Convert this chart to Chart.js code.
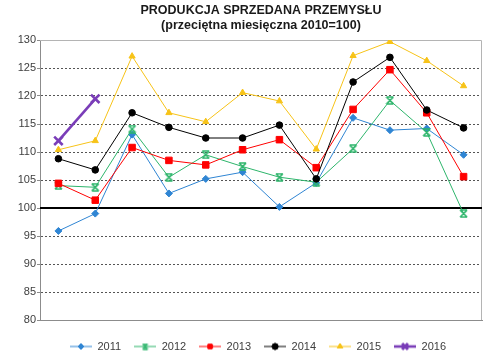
<!DOCTYPE html>
<html>
<head>
<meta charset="utf-8">
<script src="https://cdn.jsdelivr.net/npm/chart.js@4/dist/chart.umd.min.js"></script>
<style>
html,body{margin:0;padding:0;background:#fff;}
#wrap{width:500px;height:357px;}
</style>
</head>
<body>
<div id="wrap"><canvas id="c" width="500" height="357"></canvas></div>
<script>
const titleLines = ['PRODUKCJA SPRZEDANA PRZEMYSŁU', '(przeciętna miesięczna 2010=100)'];
const months = ['I','II','III','IV','V','VI','VII','VIII','IX','X','XI','XII'];
const seriesNames = ['2011','2012','2013','2014','2015','2016'];
const v2011 = [95.9, 99.0, 113.1, 102.6, 105.2, 106.4, 100.2, 104.5, 116.1, 113.9, 114.2, 109.5];
const v2012 = [104.0, 103.7, 114.1, 105.5, 109.5, 107.4, 105.5, 104.6, 110.6, 119.2, 113.5, 99.0];
const v2013 = [104.4, 101.4, 110.8, 108.5, 107.7, 110.4, 112.2, 107.2, 117.6, 124.7, 117.0, 105.6];
const v2014 = [108.8, 106.8, 117.0, 114.4, 112.5, 112.5, 114.8, 105.2, 122.5, 126.9, 117.5, 114.3];
const v2015 = [110.4, 112.0, 127.1, 117.0, 115.4, 120.6, 119.1, 110.5, 127.2, 129.7, 126.3, 121.8];
const v2016 = [112.0, 119.5, null, null, null, null, null, null, null, null, null, null];
const yMin = 80, yMax = 130, yStep = 5, baseLine = 100;

const FONT = "'Liberation Sans', Arial, sans-serif";
const colors = ['#2F85D3', '#2DB56B', '#FF0000', '#000000', '#F7C318', '#7A3DB8'];

function hourglass(color, size) {
  const c = document.createElement('canvas');
  c.width = size; c.height = size;
  const g = c.getContext('2d');
  g.strokeStyle = color; g.lineWidth = 1.6;
  const a = 1, b = size - 1;
  g.beginPath();
  g.moveTo(a, a); g.lineTo(b, b);
  g.moveTo(b, a); g.lineTo(a, b);
  g.moveTo(a, a); g.lineTo(b, a);
  g.moveTo(a, b); g.lineTo(b, b);
  g.stroke();
  return c;
}
const greenMarker = hourglass(colors[1], 9);

const styles = [
  {pointStyle: 'rectRot', radius: 3.5, lw: 1, pbw: 1},
  {pointStyle: greenMarker, radius: 4.5, lw: 1, pbw: 1},
  {pointStyle: 'rect', radius: 4.6, lw: 1, pbw: 1},
  {pointStyle: 'circle', radius: 3.3, lw: 1, pbw: 1},
  {pointStyle: 'triangle', radius: 3.6, lw: 1, pbw: 1},
  {pointStyle: 'crossRot', radius: 6, lw: 2.6, pbw: 2.6}
];

function legendIcon(i) {
  const c = document.createElement('canvas');
  c.width = 22; c.height = 10;
  const g = c.getContext('2d');
  g.strokeStyle = colors[i]; g.fillStyle = colors[i];
  g.lineWidth = styles[i].lw;
  g.beginPath(); g.moveTo(0, 5); g.lineTo(22, 5); g.stroke();
  const s = styles[i].pointStyle;
  if (typeof s !== 'string') {
    g.drawImage(hourglass(colors[i], 7), 7.5, 1.5);
  } else {
    Chart.helpers.drawPoint(g, {pointStyle: s, radius: i === 5 ? 4 : 3, rotation: 0, borderWidth: styles[i].lw}, 11, 5);
    if (s !== 'crossRot') g.fill();
    g.stroke();
  }
  return c;
}

const allValues = [v2011, v2012, v2013, v2014, v2015, v2016];
const datasets = allValues.map((vals, i) => ({
  label: seriesNames[i],
  data: vals,
  borderColor: colors[i],
  backgroundColor: colors[i],
  borderWidth: styles[i].lw,
  pointStyle: styles[i].pointStyle,
  pointRadius: styles[i].radius,
  pointBorderWidth: styles[i].pbw,
  pointBackgroundColor: colors[i],
  pointBorderColor: colors[i],
  tension: 0,
  spanGaps: false,
  order: 6 - i
}));

const framePlugin = {
  id: 'frame',
  afterLayout(chart) {
    const a = chart.chartArea;
    if (chart.titleBlock) { chart.titleBlock.left = a.left; chart.titleBlock.right = a.right; }
    if (chart.legend) { chart.legend.left = a.left - 6; chart.legend.right = a.right; }
  },
  beforeDatasetsDraw(chart) {
    const a = chart.chartArea, ctx = chart.ctx, y = chart.scales.y;
    ctx.save();
    ctx.strokeStyle = '#B4B4B4'; ctx.lineWidth = 1;
    ctx.beginPath();
    ctx.moveTo(a.left, a.top + 0.5); ctx.lineTo(a.right - 0.5, a.top + 0.5); ctx.lineTo(a.right - 0.5, a.bottom);
    ctx.stroke();
    const py = y.getPixelForValue(baseLine);
    ctx.strokeStyle = '#000'; ctx.lineWidth = 2;
    ctx.beginPath(); ctx.moveTo(a.left, py); ctx.lineTo(a.right, py); ctx.stroke();
    ctx.restore();
  }
};

new Chart(document.getElementById('c'), {
  type: 'line',
  data: {labels: months, datasets},
  plugins: [framePlugin],
  options: {
    responsive: false,
    animation: false,
    devicePixelRatio: 1,
    layout: {padding: {top: 3, right: 18, bottom: -5, left: 0}},
    plugins: {
      tooltip: {enabled: false},
      title: {
        display: true,
        text: titleLines,
        color: '#1a1a1a',
        font: {family: FONT, size: 12.5, weight: 'bold', lineHeight: 1.2},
        padding: {top: 0, bottom: 7}
      },
      legend: {
        position: 'bottom',
        labels: {
          color: '#404040',
          font: {family: FONT, size: 11},
          usePointStyle: true,
          pointStyleWidth: 22,
          boxHeight: 10,
          padding: 13,
          sort: (a, b) => a.datasetIndex - b.datasetIndex,
          generateLabels(chart) {
            const items = Chart.defaults.plugins.legend.labels.generateLabels(chart);
            items.forEach(it => { it.pointStyle = legendIcon(it.datasetIndex); });
            return items;
          }
        }
      }
    },
    scales: {
      x: {
        offset: true,
        afterFit(scale) { scale.height = 8; },
        grid: {drawOnChartArea: false, drawTicks: false, offset: true},
        border: {display: true, color: '#8C8C8C', width: 1},
        ticks: {color: '#404040', font: {family: FONT, size: 11}, padding: 7, maxRotation: 0, autoSkip: false}
      },
      y: {
        min: yMin, max: yMax,
        afterFit(scale) { scale.width = 40; },
        ticks: {stepSize: yStep, color: '#404040', font: {family: FONT, size: 11}, padding: 1},
        grid: {
          color: ctx => (ctx.tick && (ctx.tick.value === yMin || ctx.tick.value === yMax)) ? 'rgba(0,0,0,0)' : '#555',
          lineWidth: 1,
          tickLength: 3,
          tickColor: '#8C8C8C'
        },
        border: {display: true, color: '#8C8C8C', width: 1, dash: [2, 2]}
      }
    }
  }
});
</script>
</body>
</html>
